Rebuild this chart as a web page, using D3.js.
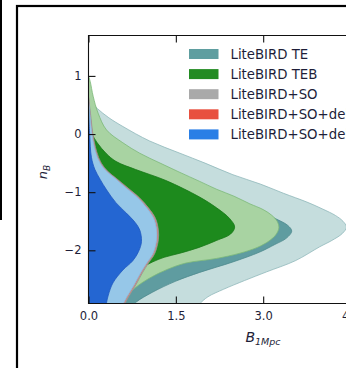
<!DOCTYPE html>
<html>
<head>
<meta charset="utf-8">
<script src="https://cdn.jsdelivr.net/npm/d3@7"></script>
<style>
  html, body { margin: 0; padding: 0; background: #fff; }
  svg { display: block; }
  text { font-family: "DejaVu Sans", sans-serif; fill: #1e1e38; }
</style>
</head>
<body>
<svg id="chart" width="346" height="368"></svg>
<script>
// Posterior contours in the (B_1Mpc, n_B) plane.
// Each contour is the right-hand boundary [B, n_B] of a region that closes on B = 0.

const seriesNames = [
  "LiteBIRD TE",
  "LiteBIRD TEB",
  "LiteBIRD+SO",
  "LiteBIRD+SO+delensing TE",
  "LiteBIRD+SO+delensing TEB"
];
const legendColors = ["#5f9ea0", "#228b22", "#a9a9a9", "#e8503f", "#2a7fe6"];

// 95% contours
const te95 = [[0,0.6],[0.15,0.44],[0.35,0.28],[0.59,0.13],[1.05,-0.12],[1.57,-0.33],[2.0,-0.5],
  [2.48,-0.7],[2.95,-0.86],[3.35,-1.02],[3.75,-1.17],[4.02,-1.29],[4.24,-1.4],[4.37,-1.5],
  [4.43,-1.6],[4.36,-1.71],[4.18,-1.83],[3.97,-1.94],[3.55,-2.18],[3.06,-2.37],[2.68,-2.52],
  [2.32,-2.67],[2.05,-2.8],[1.92,-2.91],[1.84,-3.0]];
const teb95 = [[0,1.0],[0.03,0.9],[0.08,0.65],[0.165,0.36],[0.31,0.07],[0.59,-0.15],[0.88,-0.33],
  [1.23,-0.5],[1.57,-0.66],[1.9,-0.81],[2.2,-0.95],[2.5,-1.07],[2.77,-1.2],[3.0,-1.3],
  [3.15,-1.4],[3.24,-1.5],[3.27,-1.61],[3.22,-1.73],[3.1,-1.84],[2.9,-1.95],[2.6,-2.05],
  [2.2,-2.14],[1.67,-2.22],[1.35,-2.33],[1.1,-2.45],[0.86,-2.6],[0.7,-2.75],[0.62,-2.9],[0.6,-3.0]];
const so95 = [[0,0.64],[0.04,0.3],[0.075,0.0],[0.14,-0.3],[0.22,-0.5],[0.33,-0.64],[0.5,-0.78],
  [0.68,-0.93],[0.88,-1.1],[1.03,-1.27],[1.15,-1.45],[1.2,-1.65],[1.2,-1.82],[1.14,-2.05],
  [1.03,-2.22],[0.93,-2.38],[0.81,-2.6],[0.69,-2.8],[0.63,-2.92],[0.61,-3.0]];
const red95 = [[0,0.62],[0.03,0.3],[0.065,0.0],[0.125,-0.3],[0.205,-0.5],[0.315,-0.64],[0.485,-0.78],
  [0.66,-0.93],[0.86,-1.1],[1.01,-1.27],[1.13,-1.45],[1.18,-1.65],[1.18,-1.82],[1.12,-2.05],
  [1.01,-2.22],[0.91,-2.38],[0.79,-2.6],[0.67,-2.8],[0.61,-2.92],[0.59,-3.0]];
const blue95 = [[0,0.62],[0.03,0.3],[0.06,0.0],[0.12,-0.3],[0.2,-0.5],[0.31,-0.64],[0.48,-0.78],
  [0.65,-0.93],[0.85,-1.1],[1.0,-1.27],[1.12,-1.45],[1.17,-1.65],[1.17,-1.82],[1.11,-2.05],
  [1.0,-2.22],[0.9,-2.38],[0.78,-2.6],[0.66,-2.8],[0.6,-2.92],[0.58,-3.0]];

// 68% contours
const te68 = [[0,0.2],[0.25,-0.05],[0.7,-0.35],[1.4,-0.7],[2.2,-0.98],[2.8,-1.25],[3.2,-1.45],
  [3.42,-1.57],[3.49,-1.67],[3.4,-1.79],[3.2,-1.9],[2.94,-2.03],[2.48,-2.2],[1.91,-2.38],
  [1.5,-2.53],[1.1,-2.72],[0.82,-2.89],[0.72,-3.0]];
const teb68 = [[0,0.1],[0.15,-0.15],[0.3,-0.33],[0.47,-0.47],[0.81,-0.61],[1.33,-0.8],[1.9,-1.08],
  [2.2,-1.27],[2.42,-1.45],[2.51,-1.6],[2.44,-1.72],[2.2,-1.83],[1.9,-1.95],[1.57,-2.05],
  [1.3,-2.12],[1.1,-2.2],[0.85,-2.33],[0.55,-2.52],[0.25,-2.72],[0,-2.85]];
const so68 = [[0,0.47],[0.03,0.0],[0.07,-0.4],[0.13,-0.61],[0.23,-0.78],[0.34,-0.96],[0.5,-1.18],
  [0.68,-1.36],[0.83,-1.52],[0.91,-1.65],[0.94,-1.85],[0.89,-2.02],[0.79,-2.18],[0.62,-2.34],
  [0.45,-2.56],[0.37,-2.77],[0.34,-2.9],[0.33,-3.0]];
const red68 = [[0,0.46],[0.025,0.0],[0.06,-0.4],[0.12,-0.61],[0.21,-0.78],[0.32,-0.96],[0.48,-1.18],
  [0.66,-1.36],[0.81,-1.52],[0.89,-1.65],[0.92,-1.85],[0.87,-2.02],[0.77,-2.18],[0.6,-2.34],
  [0.43,-2.56],[0.35,-2.77],[0.32,-2.9],[0.31,-3.0]];
const blue68 = [[0,0.45],[0.02,0.0],[0.05,-0.4],[0.11,-0.61],[0.2,-0.78],[0.31,-0.96],[0.47,-1.18],
  [0.65,-1.36],[0.8,-1.52],[0.88,-1.65],[0.91,-1.85],[0.86,-2.02],[0.76,-2.18],[0.59,-2.34],
  [0.42,-2.56],[0.34,-2.77],[0.31,-2.9],[0.3,-3.0]];

const xTicks = [0, 1.5, 3.0, 4.5];
const yTicks = [1, 0, -1, -2];

// Drawing order: back to front
const layers = [
  { data: te95,   fill: "#c5dddd", stroke: "#8fb8ba" },
  { data: te68,   fill: "#5f9ca0", stroke: "#4f8a8e" },
  { data: teb95,  fill: "#a8d3a2", stroke: "#7cb978" },
  { data: teb68,  fill: "#1d8a1d", stroke: "#187818" },
  { data: so95,   fill: "#b4b4b4", stroke: "#909090" },
  { data: so68,   fill: "#a0a0a0", stroke: "#888888" },
  { data: red95,  fill: "#f0a89e", stroke: "#d8685a" },
  { data: red68,  fill: "#e8503f", stroke: "#c8402f" },
  { data: blue95, fill: "#96c7e8", stroke: "#86b7da" },
  { data: blue68, fill: "#2466d2", stroke: "#2058c0" }
];

const svg = d3.select("#chart");
const pLeft = 88.5, pTop = 35.5, pBottom = 303.5, pRight = 368;

const x = d3.scaleLinear().domain([0, 4.8]).range([pLeft, pRight]);
const y = d3.scaleLinear().domain([-2.915, 1.695]).range([pBottom, pTop]);

// outer frame lines
svg.append("line").attr("x1", 1).attr("x2", 1).attr("y1", 0).attr("y2", 220)
  .attr("stroke", "#000").attr("stroke-width", 2);
svg.append("rect").attr("x", 17).attr("y", 6).attr("width", 400).attr("height", 400)
  .attr("fill", "none").attr("stroke", "#000").attr("stroke-width", 2.2);

svg.append("clipPath").attr("id", "plotClip")
  .append("rect").attr("x", pLeft).attr("y", pTop).attr("width", pRight - pLeft).attr("height", pBottom - pTop);

const line = d3.line().x(d => x(d[0])).y(d => y(d[1])).curve(d3.curveCatmullRom.alpha(0.5));
const regionPath = pts => line(pts) + "L" + x(0) + "," + y(pts[pts.length - 1][1]) + "Z";

const plot = svg.append("g").attr("clip-path", "url(#plotClip)");
plot.selectAll("path.region").data(layers).join("path")
  .attr("class", "region")
  .attr("d", d => regionPath(d.data))
  .attr("fill", d => d.fill)
  .attr("stroke", d => d.stroke)
  .attr("stroke-width", 0.8);

// axes with inward ticks
const styleAxis = g => {
  g.select(".domain").remove();
  g.selectAll(".tick line").attr("stroke", "#111").attr("stroke-width", 1.1);
  g.selectAll(".tick text").attr("font-family", null).style("font-size", "11.5px").attr("fill", "#1e1e38");
};

svg.append("g").attr("transform", `translate(${pLeft},0)`)
  .call(d3.axisLeft(y).tickValues(yTicks).tickFormat(d3.format("d")).tickSizeInner(-7).tickSizeOuter(0).tickPadding(7))
  .call(styleAxis);

svg.append("g").attr("transform", `translate(0,${pBottom})`)
  .call(d3.axisBottom(x).tickValues(xTicks).tickFormat(d3.format(".1f")).tickSizeInner(-7).tickSizeOuter(0).tickPadding(8))
  .call(styleAxis);

svg.append("g").attr("transform", `translate(0,${pTop})`)
  .call(d3.axisTop(x).tickValues(xTicks).tickFormat("").tickSizeInner(-7).tickSizeOuter(0))
  .call(styleAxis);

// spines
svg.append("path")
  .attr("d", `M${pRight},${pTop}H${pLeft}V${pBottom}H${pRight}`)
  .attr("fill", "none").attr("stroke", "#111").attr("stroke-width", 1.1);

// legend
const legend = svg.append("g").attr("transform", "translate(189,49)");
const rows = legend.selectAll("g").data(seriesNames).join("g")
  .attr("transform", (d, i) => `translate(0,${i * 20.1})`);
rows.append("rect").attr("width", 29.5).attr("height", 10).attr("fill", (d, i) => legendColors[i]);
rows.append("text").attr("x", 41.5).attr("y", 9.5).style("font-size", "13.3px").text(d => d);

// axis titles
const yTitle = svg.append("text")
  .attr("transform", "translate(47,172) rotate(-90)")
  .attr("text-anchor", "middle")
  .style("font-size", "13px");
yTitle.append("tspan").style("font-style", "italic").text("n");
yTitle.append("tspan").attr("dy", 3).style("font-size", "9px").style("font-style", "italic").text("B");

const xTitle = svg.append("text")
  .attr("x", 263).attr("y", 342)
  .attr("text-anchor", "middle")
  .style("font-size", "14px");
xTitle.append("tspan").style("font-style", "italic").text("B");
xTitle.append("tspan").attr("dy", 3).style("font-size", "9.5px").style("font-style", "italic").text("1Mpc");
</script>
</body>
</html>
